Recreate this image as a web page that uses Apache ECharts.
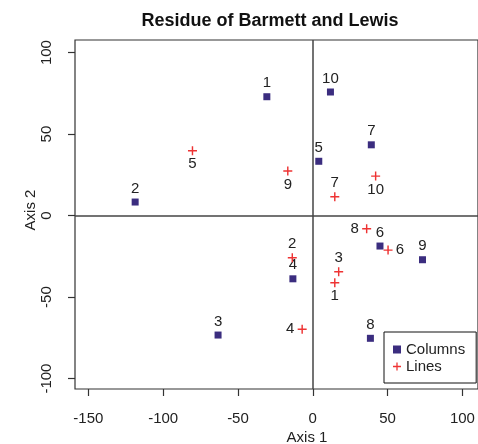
<!DOCTYPE html>
<html>
<head>
<meta charset="utf-8">
<script src="https://cdn.jsdelivr.net/npm/echarts@6/dist/echarts.min.js"></script>
<style>html,body{margin:0;padding:0;background:#fff}#c{width:478px;height:444px}</style>
</head>
<body>
<div id="c"></div>
<script>
// ---- data ----
var colLabels = ['1','2','3','4','5','6','7','8','9','10'];
var colX = [-30.7, -118.7, -63.3, -13.3, 4.0, 44.9, 39.1, 38.5, 73.3, 11.8];
var colY = [72.9, 8.3, -73.3, -38.8, 33.3, -18.7, 43.4, -75.3, -27.1, 75.8];
var lineLabels = ['1','2','3','4','5','6','7','8','9','10'];
var lineX = [14.7, -13.7, 17.3, -7.1, -80.4, 50.3, 14.7, 36.0, -16.7, 42.0];
var lineY = [-41.2, -25.9, -34.5, -69.8, 39.8, -21.2, 11.5, -8.1, 27.3, 24.2];
var xTicks = [-150, -100, -50, 0, 50, 100];
var yTicks = [-100, -50, 0, 50, 100];
// label placement (style)
var lineLabelSide = ['bottom','top','top','left','bottom','right','top','left','bottom','bottom'];

var FONT = '"Liberation Sans", Arial, sans-serif';
var colColor = '#3b2d7f';
var lineColor = '#ee3333';
var plusPath = 'path://M-0.8,-5h1.6v4.2h4.2v1.6h-4.2v4.2h-1.6v-4.2h-4.2v-1.6h4.2z';

var colData = colX.map(function (x, i) { return { name: colLabels[i], value: [x, colY[i]] }; });
var lineData = lineX.map(function (x, i) {
  var side = lineLabelSide[i];
  var dist = (side === 'left' || side === 'right') ? 3.3 : 1.5;
  return { name: lineLabels[i], value: [x, lineY[i]], label: { position: side, distance: dist } };
});

var chart = echarts.init(document.getElementById('c'), null, { renderer: 'canvas' });
chart.setOption({
  animation: false,
  textStyle: { fontFamily: FONT },
  grid: { left: 75, top: 40, width: 404, height: 349, show: true, borderColor: '#333', borderWidth: 1.2, backgroundColor: 'transparent' },
  graphic: [
    { type: 'text', style: { text: 'Residue of Barmett and Lewis', x: 270, y: 21, textAlign: 'center', textVerticalAlign: 'middle', font: 'bold 18px ' + FONT, fill: '#111' } },
    { type: 'text', style: { text: 'Axis 1', x: 307, y: 438, textAlign: 'center', textVerticalAlign: 'middle', font: '15px ' + FONT, fill: '#222' } },
    { type: 'text', rotation: Math.PI / 2, x: 31, y: 210, style: { text: 'Axis 2', x: 0, y: 0, textAlign: 'center', textVerticalAlign: 'middle', font: '15px ' + FONT, fill: '#222' } }
  ],
  xAxis: {
    type: 'value', min: -158.9, max: 110.4,
    axisLine: { show: false, onZero: false },
    splitLine: { show: false },
    axisTick: { show: true, inside: false, length: 7, customValues: xTicks, lineStyle: { color: '#333', width: 1.2 } },
    axisLabel: { customValues: xTicks, margin: 22, fontSize: 15, color: '#222', fontFamily: FONT }
  },
  yAxis: {
    type: 'value', min: -106.4, max: 107.7,
    axisLine: { show: false, onZero: false },
    splitLine: { show: false },
    axisTick: { show: true, inside: false, length: 7, customValues: yTicks, lineStyle: { color: '#333', width: 1.2 } },
    axisLabel: { customValues: yTicks, rotate: 90, margin: 21, fontSize: 15, color: '#222', fontFamily: FONT }
  },
  legend: {
    orient: 'vertical', left: 384, top: 332,
    borderColor: '#111', borderWidth: 1,
    padding: [10, 11, 9, 9],
    itemWidth: 8, itemHeight: 8, itemGap: 2, itemTextGap: 10,
    textStyle: { fontSize: 15, color: '#222', fontFamily: FONT, lineHeight: 15 },
    data: [
      { name: 'Columns', icon: 'rect', itemStyle: { color: colColor } },
      { name: 'Lines', icon: plusPath, itemStyle: { color: lineColor } }
    ]
  },
  series: [
    {
      name: 'Columns', type: 'scatter', symbol: 'rect', symbolSize: 7,
      itemStyle: { color: colColor, opacity: 1 },
      label: { show: true, position: 'top', distance: 2.5, formatter: '{b}', fontSize: 15, color: '#222', fontFamily: FONT },
      data: colData,
      markLine: {
        silent: true, symbol: 'none', animation: false,
        label: { show: false },
        lineStyle: { color: '#444', width: 1.5, type: 'solid' },
        data: [{ xAxis: 0 }, { yAxis: 0 }]
      },
      z: 3
    },
    {
      name: 'Lines', type: 'scatter', symbol: plusPath, symbolSize: 9,
      itemStyle: { color: lineColor, opacity: 1 },
      label: { show: true, formatter: '{b}', fontSize: 15, color: '#222', fontFamily: FONT },
      data: lineData,
      z: 4
    }
  ]
});
</script>
</body>
</html>
